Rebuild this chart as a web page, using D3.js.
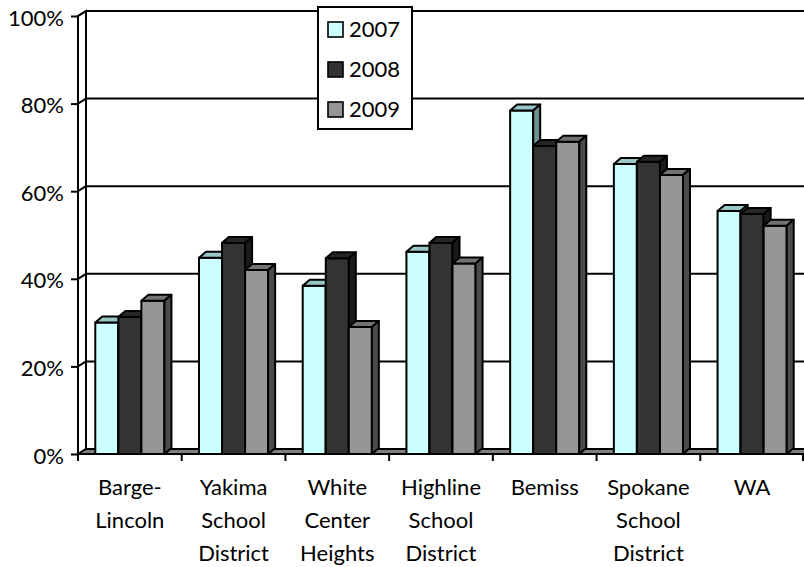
<!DOCTYPE html>
<html>
<head>
<meta charset="utf-8">
<script src="https://cdn.jsdelivr.net/npm/d3@7"></script>
<style>
  body { margin: 0; background: #fff; }
  svg { display: block; font-family: Lato, "Open Sans", sans-serif; }
</style>
</head>
<body>
<div id="chart"></div>
<script>
// Chart data
const categories = ['Barge-Lincoln', 'Yakima School District', 'White Center Heights',
    'Highline School District', 'Bemiss', 'Spokane School District', 'WA'];
const categoryLines = [['Barge-', 'Lincoln'], ['Yakima', 'School', 'District'],
    ['White', 'Center', 'Heights'], ['Highline', 'School', 'District'], ['Bemiss'],
    ['Spokane', 'School', 'District'], ['WA']];
const years = ['2007', '2008', '2009'];
const values2007 = [0.300, 0.448, 0.384, 0.462, 0.784, 0.662, 0.555];
const values2008 = [0.313, 0.482, 0.447, 0.482, 0.703, 0.667, 0.548];
const values2009 = [0.350, 0.420, 0.290, 0.435, 0.713, 0.637, 0.521];
const yTicks = [0, 0.2, 0.4, 0.6, 0.8, 1.0];

const seriesValues = { '2007': values2007, '2008': values2008, '2009': values2009 };

// face colours: front, top, side
const colors = {
    '2007': ['#ccffff', '#99c6c6', '#6f9090'],
    '2008': ['#333333', '#262626', '#1a1a1a'],
    '2009': ['#969696', '#727272', '#4b4b4b']
};

const chartW = 804, chartH = 567;
const plotLeft = 78, plotRight = 804, plotTop = 16, plotBottom = 454;
const wallDx = 8, wallDy = -5;   // depth of walls / floor
const barDx = 7, barDy = -6;     // depth of bar tops
const fontSize = '22px';

const svg = d3.select('#chart').append('svg')
    .attr('width', chartW)
    .attr('height', chartH);

const y = d3.scaleLinear().domain([0, 1]).range([plotBottom, plotTop]);

const x0 = d3.scaleBand()
    .domain(categories)
    .range([plotLeft, plotRight])
    .padding(0);

// gap width 150% between clusters
const bw = x0.bandwidth();
const gapHalf = bw * 0.75 / 4.5;
const x1 = d3.scaleBand()
    .domain(years)
    .range([gapHalf, bw - gapHalf]);

// Back wall gridlines
svg.append('g')
    .attr('class', 'back-grid')
    .selectAll('line')
    .data(yTicks)
    .enter()
    .append('line')
    .attr('x1', plotLeft + wallDx)
    .attr('x2', plotRight + 20)
    .attr('y1', d => y(d) + wallDy)
    .attr('y2', d => y(d) + wallDy)
    .attr('stroke', '#000')
    .attr('stroke-width', 2);

// Left side wall
svg.append('path')
    .attr('d', `M${plotLeft},${y(0)}L${plotLeft},${y(1)}L${plotLeft + wallDx},${y(1) + wallDy}L${plotLeft + wallDx},${y(0) + wallDy}`)
    .attr('fill', 'none')
    .attr('stroke', '#000')
    .attr('stroke-width', 2);

svg.append('g')
    .selectAll('line')
    .data(yTicks)
    .enter()
    .append('line')
    .attr('x1', plotLeft)
    .attr('x2', plotLeft + wallDx)
    .attr('y1', d => y(d))
    .attr('y2', d => y(d) + wallDy)
    .attr('stroke', '#000')
    .attr('stroke-width', 2);

// Floor
svg.append('path')
    .attr('d', `M${plotLeft},${plotBottom}L${plotLeft + wallDx},${plotBottom + wallDy}L${plotRight + 20},${plotBottom + wallDy}L${plotRight + 20},${plotBottom}Z`)
    .attr('fill', '#808080')
    .attr('stroke', '#000')
    .attr('stroke-width', 2);

// Y axis
const yAxis = svg.append('g')
    .attr('class', 'y-axis')
    .attr('transform', `translate(${plotLeft},0)`)
    .call(d3.axisLeft(y)
        .tickValues(yTicks)
        .tickSize(7)
        .tickPadding(7)
        .tickFormat(d3.format('.0%')));
yAxis.select('.domain').remove();
yAxis.selectAll('line').attr('stroke', '#000').attr('stroke-width', 2);
yAxis.selectAll('text')
    .attr('dy', null)
    .attr('y', 9)
    .style('font-family', 'Lato, sans-serif')
    .style('font-size', fontSize)
    .style('fill', '#000');

// Bars
categories.forEach((cat, ci) => {
    const g = svg.append('g').attr('class', 'cluster');
    years.forEach(yr => {
        const v = seriesValues[yr][ci];
        const bx = x0(cat) + x1(yr);
        const w = x1.bandwidth();
        const yt = y(v);
        const yb = y(0);
        const c = colors[yr];

        g.append('rect')
            .attr('x', bx)
            .attr('y', yt)
            .attr('width', w)
            .attr('height', yb - yt)
            .attr('fill', c[0])
            .attr('stroke', '#000')
            .attr('stroke-width', 2)
            .attr('stroke-linejoin', 'round');

        g.append('path')
            .attr('d', `M${bx},${yt}L${bx + barDx},${yt + barDy}L${bx + w + barDx},${yt + barDy}L${bx + w},${yt}Z`)
            .attr('fill', c[1])
            .attr('stroke', '#000')
            .attr('stroke-width', 2)
            .attr('stroke-linejoin', 'round');

        g.append('path')
            .attr('d', `M${bx + w},${yt}L${bx + w + barDx},${yt + barDy}L${bx + w + barDx},${yb + barDy}L${bx + w},${yb}Z`)
            .attr('fill', c[2])
            .attr('stroke', '#000')
            .attr('stroke-width', 2)
            .attr('stroke-linejoin', 'round');
    });
});

// Front axis lines
svg.append('line')
    .attr('x1', plotLeft).attr('x2', plotLeft)
    .attr('y1', y(1)).attr('y2', y(0))
    .attr('stroke', '#000')
    .attr('stroke-width', 2);
svg.append('line')
    .attr('x1', plotLeft).attr('x2', plotRight + 20)
    .attr('y1', y(0)).attr('y2', y(0))
    .attr('stroke', '#000')
    .attr('stroke-width', 2);

// Category tick marks at band boundaries
const boundaries = categories.map(c => x0(c)).concat([x0.range()[1] - 1]);
svg.append('g')
    .selectAll('line')
    .data(boundaries)
    .enter()
    .append('line')
    .attr('x1', d => d)
    .attr('x2', d => d)
    .attr('y1', y(0))
    .attr('y2', y(0) + 7)
    .attr('stroke', '#000')
    .attr('stroke-width', 2);

// Category labels
const labels = svg.append('g')
    .selectAll('text')
    .data(categories)
    .enter()
    .append('text')
    .attr('x', d => x0(d) + bw / 2)
    .attr('y', 495)
    .attr('text-anchor', 'middle')
    .style('font-size', fontSize)
    .style('fill', '#000');

labels.each(function(d, i) {
    d3.select(this).selectAll('tspan')
        .data(categoryLines[i])
        .enter()
        .append('tspan')
        .attr('x', x0(d) + bw / 2)
        .attr('y', (t, j) => 495 + j * 33)
        .text(t => t);
});

// Legend
const legend = svg.append('g')
    .attr('class', 'chart-legend')
    .attr('transform', 'translate(318,7)');

legend.append('rect')
    .attr('width', 94)
    .attr('height', 122)
    .attr('fill', '#fff')
    .attr('stroke', '#000')
    .attr('stroke-width', 2);

years.forEach((yr, i) => {
    const item = legend.append('g')
        .attr('transform', `translate(10, ${15 + i * 40})`);
    item.append('rect')
        .attr('width', 15)
        .attr('height', 15)
        .attr('fill', colors[yr][0])
        .attr('stroke', '#000')
        .attr('stroke-width', 1.6);
    item.append('text')
        .attr('x', 21)
        .attr('y', 15)
        .style('font-size', fontSize)
        .style('fill', '#000')
        .text(yr);
});
</script>
</body>
</html>
